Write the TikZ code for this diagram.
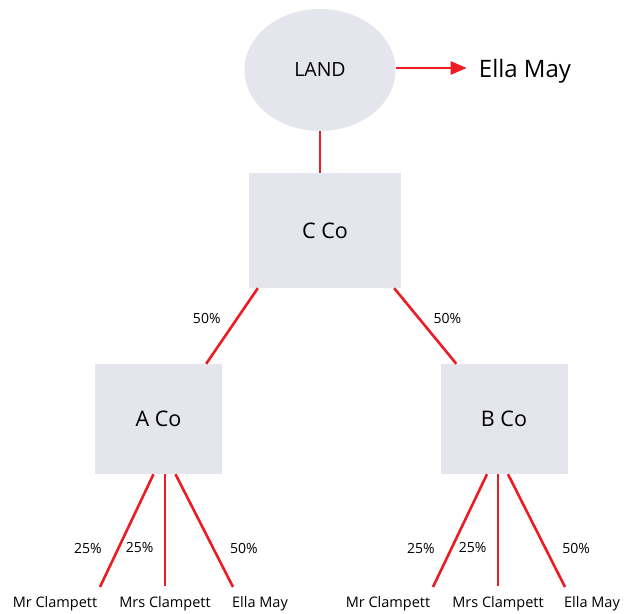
\documentclass[tikz,border=0pt]{standalone}
\usepackage{fontspec}
\setmainfont{Open Sans}
\usetikzlibrary{arrows.meta}
\usetikzlibrary{shapes.geometric}
\definecolor{link}{HTML}{ED1C24}
\definecolor{boxfill}{HTML}{E4E5ED}
\newcommand\pct[1]{{\fontsize{14}{16}\selectfont #1}}

\begin{document}
\begin{tikzpicture}[x=1pt,y=-1pt,
  co/.style={fill=boxfill,inner sep=0pt,minimum width=127pt,minimum height=110pt,font=\fontsize{21.5}{24}\selectfont},
  own/.style={draw=link,line width=2.6pt},
  who/.style={inner sep=0pt,font=\fontsize{14.5}{17}\selectfont}]
\useasboundingbox (0,0) rectangle (629,613);
\node[ellipse,fill=boxfill,inner sep=0pt,minimum width=151pt,minimum height=122pt,font=\fontsize{19.5}{22}\selectfont] (land) at (320,70){LAND};
\node[inner sep=0pt,font=\fontsize{24}{27}\selectfont] (ella) at (525,71){Ella May};
\node[co,minimum width=152pt,minimum height=115pt] (cco) at (325,230.5){C Co};
\node[co] (aco) at (158.5,419){A Co};
\node[co] (bco) at (504,419){B Co};
% owners of A Co
\node[who] (a1) at (55,604){Mr Clampett};
\node[who] (a2) at (165,604){Mrs Clampett};
\node[who] (a3) at (260,604){Ella May};
\coordinate (a1e) at (100,587);
\coordinate (a2e) at (165,586);
\coordinate (a3e) at (233,587);
% owners of B Co
\node[who] (b1) at (388,604){Mr Clampett};
\node[who] (b2) at (498,604){Mrs Clampett};
\node[who] (b3) at (592,604){Ella May};
\coordinate (b1e) at (433,587);
\coordinate (b2e) at (498,586);
\coordinate (b3e) at (565,587);

\draw[own,-{Triangle[length=16pt,width=13pt]},shorten >=12pt] ([yshift=2pt]land.east) -- ([yshift=2pt]land.east -| ella.west);
\draw[own] (land.south) -- (land.south |- cco.north);
\draw[own] ([xshift=9pt]cco.south west) -- node[pos=0.4,left=12pt]{\pct{50\%}} ([xshift=-16pt]aco.north east);
\draw[own] ([xshift=-7pt]cco.south east) -- node[pos=0.4,right=10pt]{\pct{50\%}} ([xshift=16pt]bco.north west);
\draw[own] ([xshift=-5pt]aco.south) -- node[pos=0.66,left=12pt]{\pct{25\%}} (a1e);
\draw[own] (aco.south -| a2e) -- node[pos=0.66,left=7pt]{\pct{25\%}} (a2e);
\draw[own] ([xshift=17pt]aco.south) -- node[pos=0.66,right=12pt]{\pct{50\%}} (a3e);
\draw[own] ([xshift=-17pt]bco.south) -- node[pos=0.66,left=12pt]{\pct{25\%}} (b1e);
\draw[own] (bco.south -| b2e) -- node[pos=0.66,left=7pt]{\pct{25\%}} (b2e);
\draw[own] ([xshift=4pt]bco.south) -- node[pos=0.66,right=12pt]{\pct{50\%}} (b3e);
\end{tikzpicture}
\end{document}
